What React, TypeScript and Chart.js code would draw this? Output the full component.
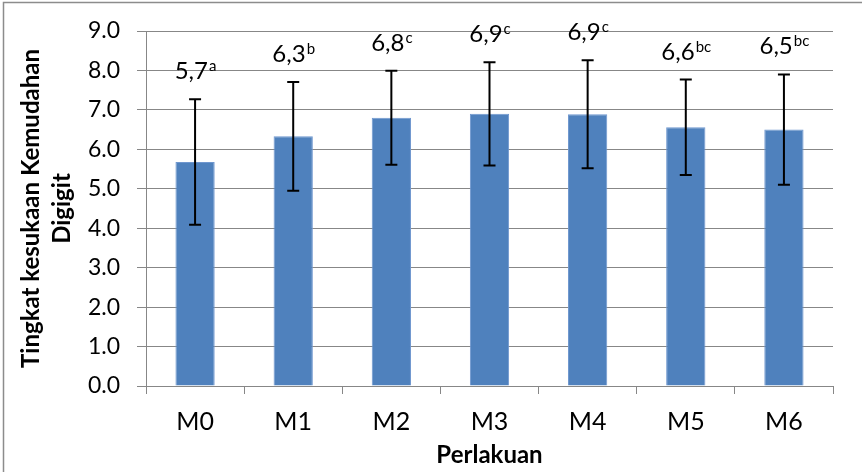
import React, { useEffect, useRef } from "react";
import { Chart, registerables } from "chart.js";

Chart.register(...registerables);

// Treatments and panel scores
const categories = ["M0", "M1", "M2", "M3", "M4", "M5", "M6"];
const means = [5.68, 6.33, 6.8, 6.9, 6.89, 6.56, 6.5];
const errors = [1.59, 1.38, 1.19, 1.31, 1.37, 1.21, 1.4];
const letters = ["a", "b", "c", "c", "c", "bc", "bc"];
const yTitleLines = ["Tingkat kesukaan Kemudahan", "Digigit"];
const xTitle = "Perlakuan";

const FONT = "Lato, 'Open Sans', sans-serif";
const GRID = "#878787";
const BAR = "#4F81BD";

const overlay = {
  id: "overlay",
  beforeDraw(chart: any) {
    const { ctx, width, height } = chart;
    ctx.save();
    ctx.fillStyle = "#ffffff";
    ctx.fillRect(0, 0, width, height);
    ctx.strokeStyle = "#8c8c8c";
    ctx.lineWidth = 1.5;
    ctx.beginPath();
    ctx.moveTo(3.5, height);
    ctx.lineTo(3.5, 2.5);
    ctx.lineTo(width, 2.5);
    ctx.stroke();
    ctx.restore();
  },
  afterDatasetsDraw(chart: any) {
    const { ctx, chartArea } = chart;
    const y = chart.scales.y;
    const meta = chart.getDatasetMeta(0);
    ctx.save();
    meta.data.forEach((bar: any, i: number) => {
      const x = bar.x;
      const top = y.getPixelForValue(means[i] + errors[i]);
      const bottom = y.getPixelForValue(means[i] - errors[i]);
      ctx.strokeStyle = "#000";
      ctx.lineWidth = 2;
      ctx.beginPath();
      ctx.moveTo(x, top);
      ctx.lineTo(x, bottom);
      ctx.moveTo(x - 6, top);
      ctx.lineTo(x + 6, top);
      ctx.moveTo(x - 6, bottom);
      ctx.lineTo(x + 6, bottom);
      ctx.stroke();

      // value label with significance letters
      const main = means[i].toFixed(1).replace(".", ",");
      const sup = letters[i];
      ctx.fillStyle = "#000";
      ctx.textBaseline = "alphabetic";
      ctx.font = `24px ${FONT}`;
      const wMain = ctx.measureText(main).width;
      ctx.font = `15px ${FONT}`;
      const wSup = ctx.measureText(sup).width;
      const start = x - (wMain + wSup) / 2;
      const base = top - 20;
      ctx.textAlign = "left";
      ctx.font = `24px ${FONT}`;
      ctx.fillText(main, start, base);
      ctx.font = `15px ${FONT}`;
      ctx.fillText(sup, start + wMain + 1, base - 8);
    });

    // axis titles
    ctx.fillStyle = "#000";
    ctx.font = `bold 24px ${FONT}`;
    ctx.textAlign = "center";
    ctx.textBaseline = "middle";
    const cy = (chartArea.top + chartArea.bottom) / 2;
    const lineX = [31, 62];
    yTitleLines.forEach((t, k) => {
      ctx.save();
      ctx.translate(lineX[k], cy);
      ctx.rotate(-Math.PI / 2);
      ctx.fillText(t, 0, 0);
      ctx.restore();
    });
    ctx.fillText(xTitle, (chartArea.left + chartArea.right) / 2, 455);
    ctx.restore();
  },
};

export default function App() {
  const ref = useRef<HTMLCanvasElement | null>(null);
  useEffect(() => {
    document.body.style.margin = "0";
    const canvas = ref.current;
    if (!canvas) return;
    const chart = new Chart(canvas, {
      type: "bar",
      data: {
        labels: categories,
        datasets: [
          {
            data: means,
            backgroundColor: BAR,
            borderColor: "#6f97cf",
            borderWidth: 1,
            barPercentage: 0.4,
            categoryPercentage: 1,
          },
        ],
      },
      options: {
        responsive: false,
        animation: false,
        devicePixelRatio: 1,
        layout: { padding: { top: 31, right: 29, left: 0, bottom: 0 } },
        plugins: { legend: { display: false }, tooltip: { enabled: false } },
        scales: {
          x: {
            afterFit: (s: any) => {
              s.height = 86;
            },
            grid: {
              offset: true,
              drawOnChartArea: false,
              drawTicks: true,
              tickLength: 8,
              color: GRID,
            },
            border: { display: true, color: GRID, width: 1 },
            ticks: { color: "#000", font: { family: FONT, size: 25 }, padding: 13 },
          },
          y: {
            min: 0,
            max: 9,
            afterFit: (s: any) => {
              s.width = 146;
            },
            grid: { color: GRID, tickLength: 9, lineWidth: 1 },
            border: { display: true, color: GRID, width: 1 },
            ticks: {
              stepSize: 1,
              color: "#000",
              font: { family: FONT, size: 23 },
              padding: 17,
              callback: (v: any) => Number(v).toFixed(1),
            },
          },
        },
      },
      plugins: [overlay],
    });
    return () => chart.destroy();
  }, []);
  return (
    <div style={{ width: 862, height: 472 }}>
      <canvas ref={ref} width={862} height={472} />
    </div>
  );
}
